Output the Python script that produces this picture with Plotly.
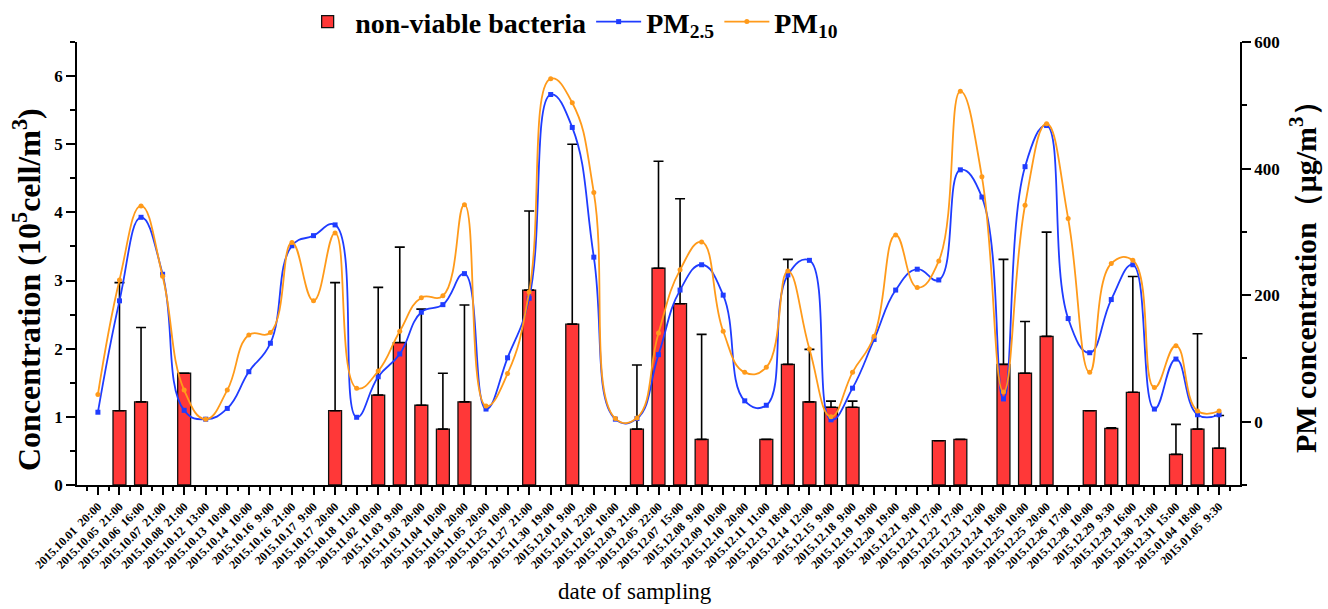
import plotly.graph_objects as go

categories = [
    "2015.10.01  20:00", "2015.10.05  21:00", "2015.10.06  16:00", "2015.10.07  21:00",
    "2015.10.08  21:00", "2015.10.12  13:00", "2015.10.13  10:00", "2015.10.14  10:00",
    "2015.10.16  9:00", "2015.10.16  21:00", "2015.10.17  9:00", "2015.10.17  20:00",
    "2015.10.18  11:00", "2015.11.02  10:00", "2015.11.03  9:00", "2015.11.03  20:00",
    "2015.11.04  10:00", "2015.11.04  20:00", "2015.11.05  20:00", "2015.11.25  10:00",
    "2015.11.27  21:00", "2015.11.30  19:00", "2015.12.01  9:00", "2015.12.01  22:00",
    "2015.12.02  10:00", "2015.12.03  21:00", "2015.12.05  22:00", "2015.12.07  15:00",
    "2015.12.08  9:00", "2015.12.09  10:00", "2015.12.10  20:00", "2015.12.11  11:00",
    "2015.12.13  18:00", "2015.12.14  12:00", "2015.12.15  9:00", "2015.12.18  9:00",
    "2015.12.19  19:00", "2015.12.20  19:00", "2015.12.21  9:00", "2015.12.21  17:00",
    "2015.12.22  17:00", "2015.12.23  12:00", "2015.12.24  18:00", "2015.12.25  10:00",
    "2015.12.25  20:00", "2015.12.26  17:00", "2015.12.28  10:00", "2015.12.29  9:30",
    "2015.12.29  16:00", "2015.12.30  21:00", "2015.12.31  15:00", "2015.01.04  18:00",
    "2015.01.05  9:30",
]

N = None
bacteria = [
    N, 1.09, 1.22, N, 1.64, N, N, N, N, N, N, 1.09, N, 1.32, 2.09, 1.17, 0.82, 1.22, N, N,
    2.86, N, 2.36, N, N, 0.82, 3.18, 2.66, 0.67, N, N, 0.67, 1.77, 1.22, 1.14, 1.14, N, N, N,
    0.65, 0.67, N, 1.77, 1.64, 2.18, N, 1.09, 0.83, 1.36, N, 0.45, 0.82, 0.54,
]
bacteria_err = [
    0, 1.88, 1.09, 0, 0, 0, 0, 0, 0, 0, 0, 1.88, 0, 1.58, 1.40, 1.41, 0.82, 1.42, 0, 0,
    1.16, 0, 2.64, 0, 0, 0.94, 1.57, 1.54, 1.54, 0, 0, 0, 1.54, 0.77, 0.09, 0.09, 0, 0, 0,
    0, 0, 0, 1.54, 0.76, 1.53, 0, 0, 0.01, 1.70, 0, 0.44, 1.40, 0.48,
]
pm25 = [
    15, 191, 323, 233, 18, 4, 21, 79, 124, 278, 294, 311, 7, 71, 107, 173, 185, 234, 20, 101,
    195, 517, 465, 260, 4, 5, 106, 208, 248, 200, 33, 26, 232, 255, 3, 53, 130, 208, 241, 224,
    398, 355, 36, 403, 468, 163, 109, 193, 248, 20, 99, 11, 11,
]
pm10 = [
    43, 224, 341, 230, 50, 4, 50, 137, 141, 283, 191, 298, 53, 80, 143, 196, 199, 343, 25, 76,
    205, 542, 504, 362, 5, 6, 140, 240, 284, 143, 78, 86, 238, 115, 8, 78, 135, 295, 212, 254,
    522, 387, 47, 342, 471, 321, 78, 250, 255, 54, 120, 17, 17,
]

idx = list(range(len(categories)))
ticktext = [c.replace("  ", "\u00a0\u00a0") for c in categories]

FONT = "Liberation Serif, Times New Roman, serif"

fig = go.Figure()
fig.add_trace(go.Bar(
    x=idx, y=bacteria, name="non-viable bacteria", width=0.6,
    marker=dict(color="#ff3838", line=dict(color="#111111", width=1.3)),
    error_y=dict(type="data", array=bacteria_err, symmetric=False,
                 arrayminus=[0] * len(idx), color="black", thickness=1.6, width=5),
    yaxis="y",
))
fig.add_trace(go.Scatter(
    x=idx, y=pm25, name="PM<sub>2.5</sub>", mode="lines+markers",
    line=dict(color="#1f3cff", width=1.8, shape="spline", smoothing=1.3),
    marker=dict(symbol="square", size=5, color="#1f3cff"),
    yaxis="y2",
))
fig.add_trace(go.Scatter(
    x=idx, y=pm10, name="PM<sub>10</sub>", mode="lines+markers",
    line=dict(color="#ff9a1a", width=1.8, shape="spline", smoothing=1.3),
    marker=dict(symbol="circle", size=5, color="#ff9a1a"),
    yaxis="y2",
))

fig.update_layout(
    width=1328, height=609, template=None,
    paper_bgcolor="white", plot_bgcolor="white",
    margin=dict(l=77, r=88, t=42, b=124, autoexpand=False),
    font=dict(family=FONT, color="black"),
    showlegend=True,
    legend=dict(orientation="h", xref="container", yref="container",
                x=0.226, xanchor="left", y=0.964, yanchor="middle",
                font=dict(family=FONT, size=28, weight="bold", color="black"),
                bgcolor="rgba(0,0,0,0)", itemwidth=45),
    xaxis=dict(
        range=[-0.97, 52.97], tickmode="array", tickvals=idx, ticktext=ticktext,
        tickangle=-45, tickfont=dict(family=FONT, size=12, weight="bold"),
        showline=True, linecolor="black", linewidth=1.5, mirror=False,
        ticks="outside", ticklen=8, tickwidth=1.5, tickcolor="black",
        minor=dict(dtick=1, tick0=0.5, ticks="outside", ticklen=4, tickwidth=1.5, tickcolor="black"),
        showgrid=False, zeroline=False, automargin=False,
    ),
    yaxis=dict(
        range=[0, 6.5], dtick=1, tick0=0,
        tickfont=dict(family=FONT, size=17, weight="bold"),
        showline=True, linecolor="black", linewidth=1.5,
        ticks="outside", ticklen=9, tickwidth=1.5, tickcolor="black",
        minor=dict(dtick=0.5, ticks="outside", ticklen=5, tickwidth=1.5, tickcolor="black"),
        showgrid=False, zeroline=False, automargin=False,
    ),
    yaxis2=dict(
        range=[-100, 600], dtick=200, tick0=0, overlaying="y", side="right",
        tickfont=dict(family=FONT, size=17, weight="bold"),
        showline=True, linecolor="black", linewidth=1.5,
        ticks="outside", ticklen=9, tickwidth=1.5, tickcolor="black",
        minor=dict(dtick=100, ticks="outside", ticklen=5, tickwidth=1.5, tickcolor="black"),
        showgrid=False, zeroline=False, automargin=False,
    ),
    bargap=0.4,
    annotations=[
        dict(text="Concentration (10<sup>5</sup>cell/m<sup>3</sup>)", xref="paper", yref="paper",
             x=-0.043, y=0.4424, textangle=-90, showarrow=False,
             xanchor="center", yanchor="middle",
             font=dict(family=FONT, size=32, weight="bold", color="black")),
        dict(text="PM concentration\uff08\u03bcg/m<sup>3</sup>\uff09", xref="paper", yref="paper",
             x=1.0542, y=0.4853, textangle=-90, showarrow=False,
             xanchor="center", yanchor="middle",
             font=dict(family=FONT, size=30, weight="bold", color="black")),
        dict(text="date of sampling", xref="paper", yref="paper",
             x=0.4798, y=-0.2415, showarrow=False, xanchor="center", yanchor="middle",
             font=dict(family=FONT, size=23, color="black")),
    ],
)

fig.write_html("out.html")
